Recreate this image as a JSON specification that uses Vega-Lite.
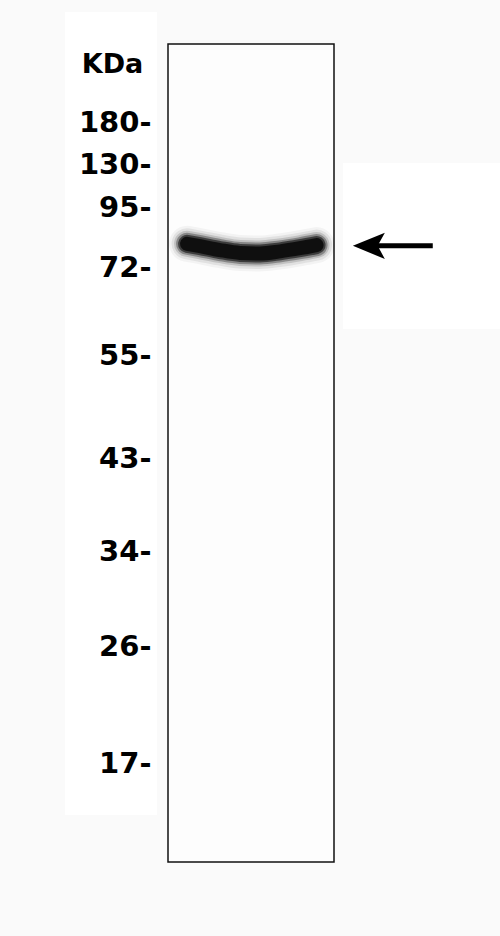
{
  "$schema": "https://vega.github.io/schema/vega-lite/v6.json",
  "autosize": {"type": "none"},
  "width": 166,
  "height": 818,
  "padding": {"left": 168, "top": 44, "right": 166, "bottom": 74},
  "background": "#fafafa",
  "view": {"fill": "#fdfdfd", "stroke": "#111111", "strokeWidth": 1.5},
  "datasets": {
    "panels": [
      {"lane_pct": -62, "lane_pct_end": -6.6, "kda": 311, "kda_end": 13},
      {"lane_pct": 105.4, "lane_pct_end": 200, "kda": 131.2, "kda_end": 60}
    ],
    "band": [
      {"lane_pct": 11.5, "kda": 80.9},
      {"lane_pct": 19.3, "kda": 80.0},
      {"lane_pct": 31.3, "kda": 78.5},
      {"lane_pct": 43.4, "kda": 77.4},
      {"lane_pct": 55.4, "kda": 77.2},
      {"lane_pct": 67.5, "kda": 78.0},
      {"lane_pct": 79.5, "kda": 79.2},
      {"lane_pct": 89.5, "kda": 80.4}
    ],
    "arrow": [
      {"lane_pct": 121.7, "lane_pct_end": 159.5, "head_pct": 121.0, "kda": 80.1}
    ]
  },
  "encoding": {
    "x": {
      "field": "lane_pct",
      "type": "quantitative",
      "scale": {"domain": [0, 100], "nice": false, "zero": false},
      "axis": null
    },
    "y": {
      "field": "kda",
      "type": "quantitative",
      "scale": {
        "domain": [180, 130, 95, 72, 55, 43, 34, 26, 17],
        "range": [78, 120, 163, 223, 311, 414, 507, 602, 719],
        "nice": false,
        "zero": false
      },
      "axis": {
        "values": [180, 130, 95, 72, 55, 43, 34, 26, 17],
        "format": "d",
        "labelExpr": "datum.label + '-'",
        "labelFont": "DejaVu Sans",
        "labelFontWeight": "bold",
        "labelFontSize": 29,
        "labelColor": "#000000",
        "labelPadding": 17,
        "labelBaseline": "middle",
        "ticks": false,
        "domain": false,
        "grid": false,
        "zindex": 2,
        "title": "KDa",
        "titleFont": "DejaVu Sans",
        "titleFontWeight": "bold",
        "titleFontSize": 27,
        "titleColor": "#000000",
        "titleAngle": 0,
        "titleAlign": "center",
        "titleBaseline": "middle",
        "titleX": -56,
        "titleY": 20
      }
    }
  },
  "layer": [
    {
      "data": {"name": "panels"},
      "mark": {"type": "rect", "color": "#ffffff"},
      "encoding": {
        "x2": {"field": "lane_pct_end"},
        "y2": {"field": "kda_end"}
      }
    },
    {
      "data": {"name": "band"},
      "mark": {"type": "line", "interpolate": "monotone", "strokeCap": "round", "strokeWidth": 36, "color": "#000000", "opacity": 0.04},
      "encoding": {}
    },
    {
      "data": {"name": "band"},
      "mark": {"type": "line", "interpolate": "monotone", "strokeCap": "round", "strokeWidth": 31, "color": "#000000", "opacity": 0.07},
      "encoding": {}
    },
    {
      "data": {"name": "band"},
      "mark": {"type": "line", "interpolate": "monotone", "strokeCap": "round", "strokeWidth": 26, "color": "#000000", "opacity": 0.14},
      "encoding": {}
    },
    {
      "data": {"name": "band"},
      "mark": {"type": "line", "interpolate": "monotone", "strokeCap": "round", "strokeWidth": 22, "color": "#000000", "opacity": 0.3},
      "encoding": {}
    },
    {
      "data": {"name": "band"},
      "mark": {"type": "line", "interpolate": "monotone", "strokeCap": "round", "strokeWidth": 18, "color": "#000000", "opacity": 0.55},
      "encoding": {}
    },
    {
      "data": {"name": "band"},
      "mark": {"type": "line", "interpolate": "monotone", "strokeCap": "round", "strokeWidth": 14, "color": "#0a0a0a", "opacity": 0.9},
      "encoding": {}
    },
    {
      "data": {"name": "arrow"},
      "mark": {"type": "rule", "color": "#000000", "strokeWidth": 5},
      "encoding": {
        "x2": {"field": "lane_pct_end"}
      }
    },
    {
      "data": {"name": "arrow"},
      "mark": {
        "type": "point",
        "shape": "M-1,0 L1,-0.82 L0.55,0 L1,0.82 Z",
        "filled": true,
        "size": 1024,
        "color": "#000000",
        "opacity": 1,
        "strokeWidth": 0
      },
      "encoding": {
        "x": {"field": "head_pct", "type": "quantitative"}
      }
    }
  ]
}
